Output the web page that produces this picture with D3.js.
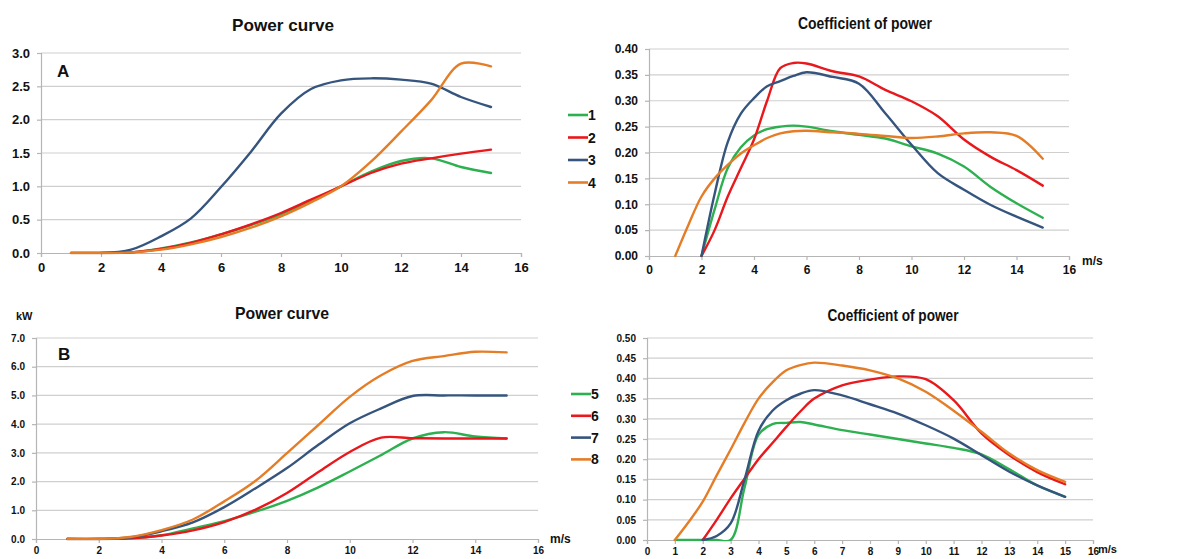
<!DOCTYPE html>
<html>
<head>
<meta charset="utf-8">
<script src="https://cdn.jsdelivr.net/npm/d3@7"></script>
<style>
  html, body { margin: 0; padding: 0; background: #fff; }
  svg { display: block; font-family: "Liberation Sans", Arial, sans-serif; }
  .grid line { stroke: #cfcfcf; stroke-width: 1.2; }
  .axis path, .axis line { stroke: #b5b5b5; stroke-width: 1.2; }
  .axis text { fill: #111; font-weight: bold; }
  .ttl { font-weight: bold; fill: #111; }
</style>
</head>
<body>
<svg id="chart" width="1197" height="559"></svg>
<script>
// --- data ---
const colors = ["#2db04f", "#e8181c", "#36557e", "#e57d27"];

// A: power curve, kW vs m/s
const speedA = [1, 2, 3, 4, 5, 6, 7, 8, 9, 10, 11, 12, 13, 14, 15];
const powerA1 = [0, 0, 0.01, 0.07, 0.16, 0.28, 0.42, 0.58, 0.78, 1.0, 1.22, 1.38, 1.42, 1.29, 1.2];
const powerA2 = [0, 0, 0.01, 0.06, 0.15, 0.28, 0.43, 0.6, 0.8, 1.0, 1.2, 1.34, 1.42, 1.49, 1.55];
const powerA3 = [null, 0, 0.05, 0.25, 0.52, 0.99, 1.52, 2.09, 2.46, 2.59, 2.62, 2.6, 2.54, 2.34, 2.19];
const powerA4 = [0, 0, 0.01, 0.05, 0.13, 0.24, 0.38, 0.55, 0.76, 1.0, 1.37, 1.82, 2.29, 2.84, 2.8];

// A: coefficient of power
const speedCpA = [1, 1.5, 2, 2.5, 3, 3.5, 4, 4.5, 5, 5.5, 6, 7, 8, 9, 10, 11, 12, 13, 14, 15];
const cpA1 = [null, null, 0, 0.09, 0.17, 0.21, 0.233, 0.245, 0.25, 0.252, 0.25, 0.241, 0.234, 0.227, 0.212, 0.198, 0.173, 0.134, 0.102, 0.074];
const cpA2 = [null, null, 0, 0.05, 0.115, 0.17, 0.225, 0.3, 0.363, 0.373, 0.372, 0.357, 0.347, 0.321, 0.299, 0.27, 0.225, 0.192, 0.166, 0.136];
const cpA3 = [null, null, 0, 0.12, 0.22, 0.275, 0.305, 0.328, 0.338, 0.348, 0.355, 0.346, 0.333, 0.276, 0.215, 0.16, 0.128, 0.099, 0.076, 0.055];
const cpA4 = [0, 0.06, 0.115, 0.15, 0.176, 0.198, 0.214, 0.228, 0.237, 0.241, 0.242, 0.239, 0.236, 0.232, 0.228, 0.231, 0.237, 0.239, 0.232, 0.188];

// B: power curve
const speedB = [1, 2, 3, 4, 5, 6, 7, 8, 9, 10, 11, 12, 13, 14, 15];
const powerB5 = [0, 0, 0.02, 0.13, 0.37, 0.62, 0.95, 1.33, 1.8, 2.35, 2.92, 3.5, 3.72, 3.57, 3.5];
const powerB6 = [0, 0, 0.02, 0.12, 0.3, 0.59, 1.02, 1.6, 2.33, 3.03, 3.53, 3.51, 3.5, 3.5, 3.5];
const powerB7 = [0, 0, 0.05, 0.27, 0.58, 1.11, 1.77, 2.47, 3.28, 4.03, 4.55, 4.98, 5.0, 5.0, 5.0];
const powerB8 = [0, 0, 0.07, 0.31, 0.68, 1.31, 2.03, 2.99, 3.97, 4.95, 5.7, 6.2, 6.37, 6.52, 6.5];

// B: coefficient of power
const speedCpB = [1, 1.5, 2, 2.5, 3, 3.5, 4, 4.5, 5, 5.5, 6, 7, 8, 9, 10, 11, 12, 13, 14, 15];
const cpB5 = [0, 0, 0, 0, 0, 0.13, 0.26, 0.287, 0.29, 0.292, 0.286, 0.272, 0.261, 0.25, 0.239, 0.228, 0.212, 0.175, 0.135, 0.107];
const cpB6 = [null, null, 0, 0.05, 0.103, 0.152, 0.2, 0.24, 0.28, 0.318, 0.35, 0.383, 0.397, 0.405, 0.398, 0.346, 0.264, 0.21, 0.168, 0.138];
const cpB7 = [null, null, 0, 0.01, 0.041, 0.15, 0.27, 0.32, 0.346, 0.362, 0.371, 0.358, 0.336, 0.313, 0.284, 0.251, 0.21, 0.169, 0.135, 0.107];
const cpB8 = [0, 0.045, 0.095, 0.16, 0.224, 0.29, 0.35, 0.39, 0.42, 0.433, 0.439, 0.432, 0.42, 0.4, 0.367, 0.32, 0.268, 0.214, 0.173, 0.144];

const legendA = ["1", "2", "3", "4"];
const legendB = ["5", "6", "7", "8"];

const svg = d3.select("#chart");
let clipN = 0;

/* one panel: scales, grid, axes, smoothed lines */
function panel(o) {
  const x = d3.scaleLinear().domain([0, 16]).range([o.x0, o.x1]);
  const y = d3.scaleLinear().domain([0, o.yMax]).range([o.y1, o.y0]);
  const g = svg.append("g");

  g.append("g").attr("class", "grid")
    .selectAll("line").data(d3.range(o.yStep, o.yMax + 1e-9, o.yStep)).join("line")
    .attr("x1", o.x0).attr("x2", o.x1)
    .attr("y1", (d) => y(d)).attr("y2", (d) => y(d));

  const ax = g.append("g").attr("class", "axis")
    .attr("transform", `translate(0,${o.y1})`)
    .call(d3.axisBottom(x).tickValues(d3.range(0, 16.01, o.xStep)).tickSize(4).tickPadding(o.xPad).tickFormat(d3.format("d")));
  ax.selectAll("text").style("font-size", o.xFont + "px");

  const ay = g.append("g").attr("class", "axis")
    .attr("transform", `translate(${o.x0},0)`)
    .call(d3.axisLeft(y).tickValues(d3.range(0, o.yMax + 1e-9, o.yStep)).tickSize(4).tickPadding(o.yPad).tickFormat(d3.format(o.fmt)));
  ay.selectAll("text").style("font-size", o.yFont + "px");

  // keep spline wiggles from dipping under the axis
  const id = "clip" + clipN++;
  svg.append("clipPath").attr("id", id).append("rect")
    .attr("x", o.x0 - 5).attr("y", o.y0 - 10).attr("width", o.x1 - o.x0 + 10).attr("height", o.y1 - o.y0 + 11.2);

  const line = d3.line()
    .defined((d) => d[1] != null)
    .x((d) => x(d[0])).y((d) => y(d[1]))
    .curve(d3.curveCatmullRom.alpha(0.5));

  const lines = g.append("g").attr("clip-path", `url(#${id})`);
  o.series.forEach((s, i) => {
    lines.append("path")
      .datum(o.xs.map((v, k) => [v, s[k]]))
      .attr("fill", "none").attr("stroke", colors[i])
      .attr("stroke-width", 2.4).attr("stroke-linejoin", "round").attr("stroke-linecap", "round")
      .attr("d", line);
  });

  g.append("text").attr("class", "ttl")
    .attr("x", o.tx).attr("y", o.ty).attr("text-anchor", "middle")
    .attr("textLength", o.tw).attr("lengthAdjust", "spacingAndGlyphs")
    .style("font-size", "17px").text(o.title);
}

function legend(labels, lx, ly, gap) {
  labels.forEach((t, i) => {
    const yy = ly + i * gap;
    svg.append("line").attr("x1", lx).attr("x2", lx + 20).attr("y1", yy).attr("y2", yy)
      .attr("stroke", colors[i]).attr("stroke-width", 2.6);
    svg.append("text").attr("x", lx + 20).attr("y", yy + 5)
      .style("font-size", "14px").style("font-weight", "bold").attr("fill", "#111").text(t);
  });
}

function label(t, x, y, size) {
  svg.append("text").attr("x", x).attr("y", y)
    .style("font-size", size + "px").style("font-weight", "bold").attr("fill", "#111").text(t);
}

// top left
panel({ x0: 41, x1: 521, y0: 53, y1: 253, yMax: 3, yStep: 0.5, fmt: ".1f", xStep: 2,
  xFont: 13, yFont: 13, xPad: 6, yPad: 7, xs: speedA, series: [powerA1, powerA2, powerA3, powerA4],
  title: "Power curve", tx: 283, ty: 31, tw: 102 });
label("A", 57, 77, 17);
legend(legendA, 568, 115, 22.5);

// top right
panel({ x0: 649, x1: 1069, y0: 49, y1: 256, yMax: 0.4, yStep: 0.05, fmt: ".2f", xStep: 2,
  xFont: 12, yFont: 12, xPad: 5, yPad: 7, xs: speedCpA, series: [cpA1, cpA2, cpA3, cpA4],
  title: "Coefficient of power", tx: 865, ty: 29, tw: 134 });
label("m/s", 1082, 265, 12);

// bottom left
panel({ x0: 36, x1: 538, y0: 338, y1: 539, yMax: 7, yStep: 1, fmt: ".1f", xStep: 2,
  xFont: 10, yFont: 10, xPad: 4, yPad: 7, xs: speedB, series: [powerB5, powerB6, powerB7, powerB8],
  title: "Power curve", tx: 282, ty: 319, tw: 94 });
label("B", 58, 360, 17);
label("kW", 16, 320, 11);
label("m/s", 550, 543, 12);
legend(legendB, 571, 394, 21.8);

// bottom right
panel({ x0: 647, x1: 1093, y0: 338, y1: 540, yMax: 0.5, yStep: 0.05, fmt: ".2f", xStep: 1,
  xFont: 10, yFont: 10, xPad: 4, yPad: 7, xs: speedCpB, series: [cpB5, cpB6, cpB7, cpB8],
  title: "Coefficient of power", tx: 893, ty: 321, tw: 131 });
label("m/s", 1098, 553, 11);
</script>
</body>
</html>
